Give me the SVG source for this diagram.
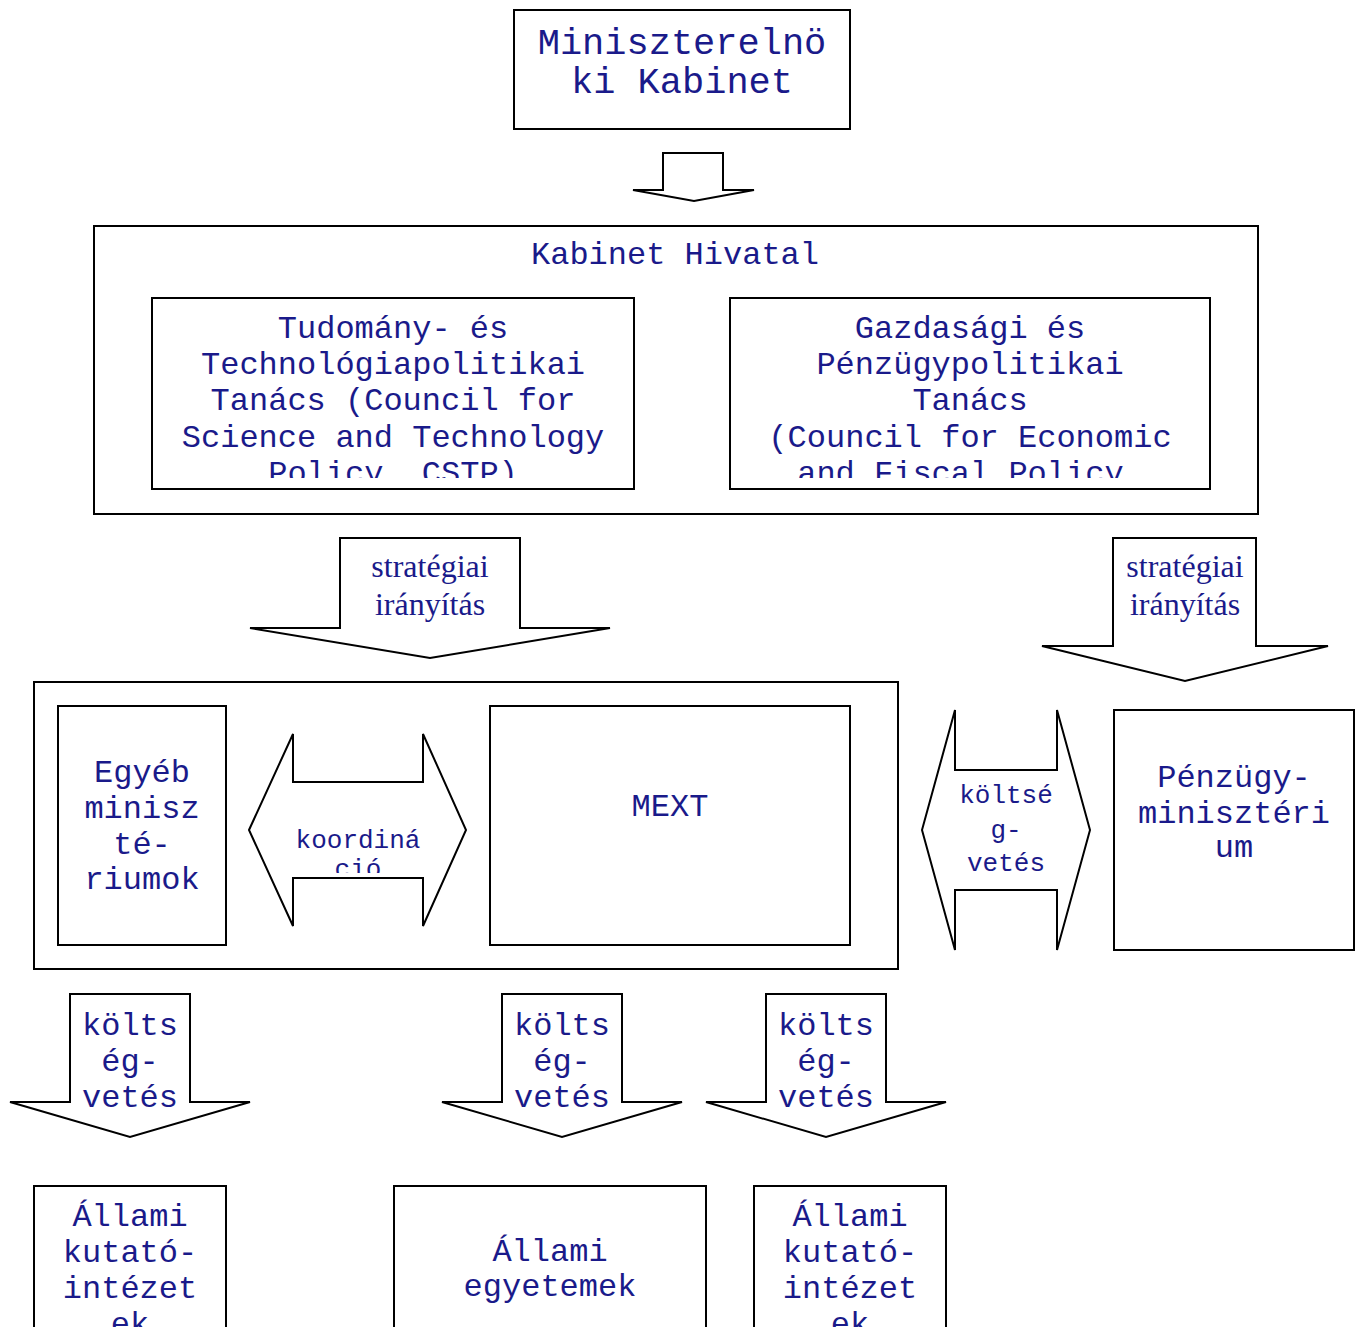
<svg xmlns="http://www.w3.org/2000/svg" width="1358" height="1327" viewBox="0 0 1358 1327">
<style>
.box{fill:#fff;stroke:#000;stroke-width:2}
.frame{fill:none;stroke:#000;stroke-width:2}
.arr{fill:#fff;stroke:#000;stroke-width:2;stroke-linejoin:miter}
.m{font-family:"Liberation Mono","Courier New",monospace;font-size:32px;fill:#1a1a8a;text-anchor:middle}
.mb{font-size:37px}
.ms{font-size:26px}
.s{font-family:"Liberation Serif","Times New Roman",serif;font-size:32px;fill:#1a1a8a;text-anchor:middle}
</style>
<defs>
<clipPath id="c1"><rect x="153" y="299" width="480" height="179"/></clipPath>
<clipPath id="c2"><rect x="731" y="299" width="478" height="179"/></clipPath>
<clipPath id="c3"><rect x="293" y="783" width="130" height="90"/></clipPath>
</defs>
<rect width="1358" height="1327" fill="#fff"/>
<g id="kormany">
<rect class="frame" x="34" y="682" width="864" height="287"/>
</g>
<g id="connectors">
<polygon class="arr" points="663,153 723,153 723,190 754,190 694,201 633,190 663,190"/>
<polygon class="arr" points="340,538 520,538 520,628 610,628 430,658 250,628 340,628"/>
<polygon class="arr" points="1113,538 1256,538 1256,646 1328,646 1185,681 1042,646 1113,646"/>
<polygon class="arr" points="249,830 293,734 293,782 423,782 423,734 466,830 423,926 423,878 293,878 293,926"/>
<polygon class="arr" points="922,830 955,710 955,770 1057,770 1057,710 1090,830 1057,950 1057,890 955,890 955,950"/>
<polygon class="arr" points="70,994 190,994 190,1102 250,1102 130,1137 10,1102 70,1102"/>
<polygon class="arr" points="502,994 622,994 622,1102 682,1102 562,1137 442,1102 502,1102"/>
<polygon class="arr" points="766,994 886,994 886,1102 946,1102 826,1137 706,1102 766,1102"/>
<g class="s">
<text x="430" y="577">stratégiai</text><text x="430" y="615">irányítás</text>
<text x="1185" y="577">stratégiai</text><text x="1185" y="615">irányítás</text>
</g>
<g class="m ms" clip-path="url(#c3)">
<text x="358" y="848">koordiná</text><text x="358" y="877">ció</text>
</g>
<g class="m ms">
<text x="1006" y="803">költsé</text><text x="1006" y="838">g-</text><text x="1006" y="871">vetés</text>
</g>
<g class="m">
<text x="130" y="1035">költs</text><text x="130" y="1071">ég-</text><text x="130" y="1107">vetés</text>
<text x="562" y="1035">költs</text><text x="562" y="1071">ég-</text><text x="562" y="1107">vetés</text>
<text x="826" y="1035">költs</text><text x="826" y="1071">ég-</text><text x="826" y="1107">vetés</text>
</g>
</g>
<g id="miniszterelnoki">
<rect class="box" x="514" y="10" width="336" height="119"/>
<text class="m mb" x="682" y="54">Miniszterelnö</text>
<text class="m mb" x="682" y="93">ki Kabinet</text>
</g>
<g id="kabinet-hivatal">
<rect class="frame" x="94" y="226" width="1164" height="288"/>
<text class="m" x="675" y="264">Kabinet Hivatal</text>
</g>
<g id="cstp">
<rect class="box" x="152" y="298" width="482" height="191"/>
<g class="m" clip-path="url(#c1)">
<text x="393" y="338">Tudomány- és</text>
<text x="393" y="374">Technológiapolitikai</text>
<text x="393" y="410">Tanács (Council for</text>
<text x="393" y="447">Science and Technology</text>
<text x="393" y="483">Policy, CSTP)</text>
</g>
</g>
<g id="cefp">
<rect class="box" x="730" y="298" width="480" height="191"/>
<g class="m" clip-path="url(#c2)">
<text x="970" y="338">Gazdasági és</text>
<text x="970" y="374">Pénzügypolitikai</text>
<text x="970" y="410">Tanács</text>
<text x="970" y="447">(Council for Economic</text>
<text x="970" y="483">and Fiscal Policy,</text>
</g>
</g>
<g id="egyeb">
<rect class="box" x="58" y="706" width="168" height="239"/>
<text class="m" x="142" y="782">Egyéb</text>
<text class="m" x="142" y="818">minisz</text>
<text class="m" x="142" y="854">té-</text>
<text class="m" x="142" y="889">riumok</text>
</g>
<g id="mext">
<rect class="box" x="490" y="706" width="360" height="239"/>
<text class="m" x="670" y="816">MEXT</text>
</g>
<g id="penzugy">
<rect class="box" x="1114" y="710" width="240" height="240"/>
<text class="m" x="1234" y="787">Pénzügy-</text>
<text class="m" x="1234" y="823">minisztéri</text>
<text class="m" x="1234" y="857">um</text>
</g>
<g id="allami1">
<rect class="box" x="34" y="1186" width="192" height="160"/>
<text class="m" x="130" y="1226">Állami</text>
<text class="m" x="130" y="1262">kutató-</text>
<text class="m" x="130" y="1298">intézet</text>
<text class="m" x="130" y="1334">ek</text>
</g>
<g id="egyetemek">
<rect class="box" x="394" y="1186" width="312" height="160"/>
<text class="m" x="550" y="1261">Állami</text>
<text class="m" x="550" y="1296">egyetemek</text>
</g>
<g id="allami2">
<rect class="box" x="754" y="1186" width="192" height="160"/>
<text class="m" x="850" y="1226">Állami</text>
<text class="m" x="850" y="1262">kutató-</text>
<text class="m" x="850" y="1298">intézet</text>
<text class="m" x="850" y="1334">ek</text>
</g>
</svg>
